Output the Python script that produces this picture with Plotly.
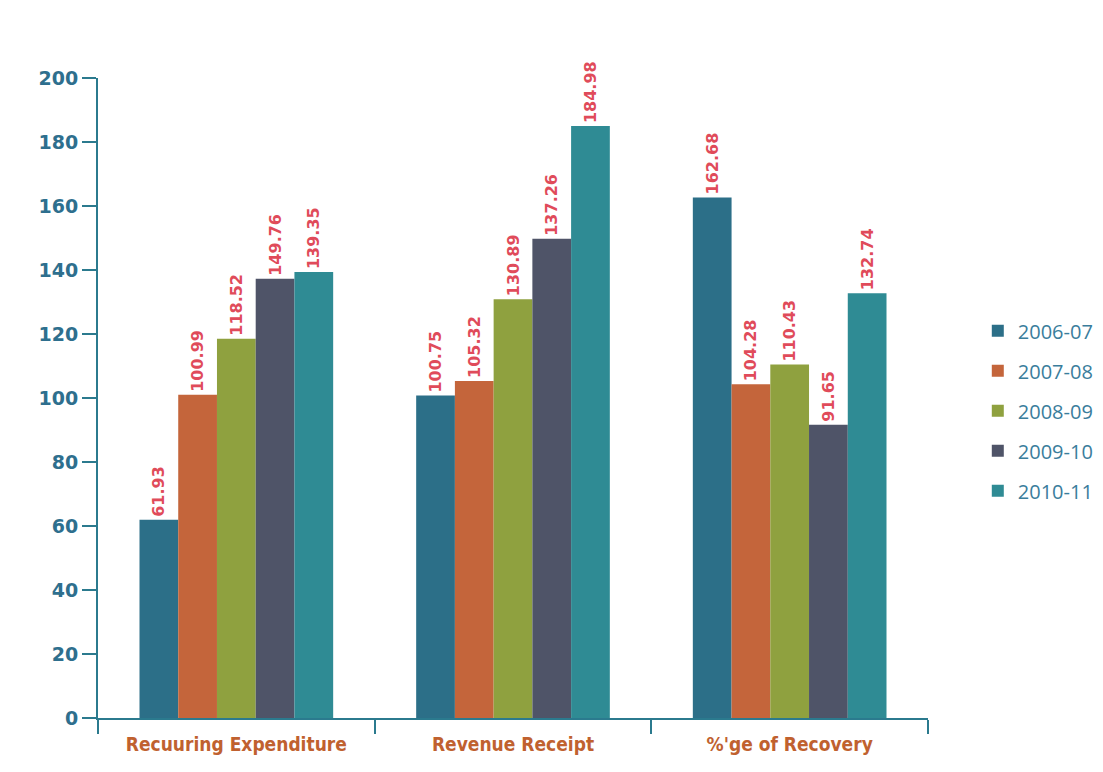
import plotly.graph_objects as go

categories = ["Recuuring Expenditure", "Revenue Receipt", "%'ge of Recovery"]
series_names = ["2006-07", "2007-08", "2008-09", "2009-10", "2010-11"]
# bar heights as drawn in the picture
values_2006_07 = [61.93, 100.75, 162.68]
values_2007_08 = [100.99, 105.32, 104.28]
values_2008_09 = [118.52, 130.89, 110.43]
values_2009_10 = [137.26, 149.76, 91.65]
values_2010_11 = [139.35, 184.98, 132.74]
# data-label texts as printed above the bars
labels_2006_07 = ["61.93", "100.75", "162.68"]
labels_2007_08 = ["100.99", "105.32", "104.28"]
labels_2008_09 = ["118.52", "130.89", "110.43"]
labels_2009_10 = ["149.76", "137.26", "91.65"]
labels_2010_11 = ["139.35", "184.98", "132.74"]
y_ticks = [0, 20, 40, 60, 80, 100, 120, 140, 160, 180, 200]

colors = ["#2c6f88", "#c4653b", "#8fa13f", "#4f5468", "#2f8b94"]
values = [values_2006_07, values_2007_08, values_2008_09, values_2009_10, values_2010_11]
labels = [labels_2006_07, labels_2007_08, labels_2008_09, labels_2009_10, labels_2010_11]

fig = go.Figure()
for name, vals, labs, col in zip(series_names, values, labels, colors):
    fig.add_trace(go.Bar(
        x=categories, y=vals, name=name, legendgroup=name,
        marker=dict(color=col, line=dict(width=0)),
        text=labs, textposition="outside", textangle=-90,
        textfont=dict(family="DejaVu Sans", size=16, color="#e04b5a", weight="bold"),
        constraintext="none", cliponaxis=False,
    ))

axis_col = "#2b7a8e"
fig.update_layout(
    width=1103, height=772,
    paper_bgcolor="white", plot_bgcolor="white",
    barmode="group", bargap=0.3, bargroupgap=0,
    margin=dict(l=90, r=172, t=70, b=62),
    font=dict(family="DejaVu Sans"),
    legend=dict(x=1.06, y=0.48, yanchor="middle", xanchor="left",
                font=dict(family="Open Sans", size=20, color="#3a7d9c"),
                itemsizing="constant", tracegroupgap=11, itemwidth=30),
    uniformtext=dict(mode=False),
)
fig.update_yaxes(range=[0, 200], tickvals=y_ticks, showgrid=False, zeroline=False,
                 automargin=False,
                 showline=True, linecolor=axis_col, linewidth=2,
                 ticks="outside", ticklen=14, tickcolor=axis_col, tickwidth=2,
                 tickfont=dict(family="DejaVu Sans", size=19, color="#2e6f8e", weight="bold"))
fig.update_xaxes(showgrid=False, showline=True, linecolor=axis_col, linewidth=2,
                 automargin=False,
                 ticks="outside", ticklen=14, tickcolor=axis_col, tickwidth=2,
                 tickson="boundaries", ticklabelstandoff=8,
                 tickfont=dict(family="DejaVu Sans Condensed", size=19, color="#c0612f", weight="bold"))

fig.write_html("out.html")
